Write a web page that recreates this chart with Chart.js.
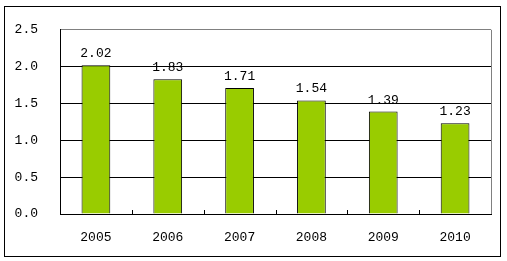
<!DOCTYPE html>
<html>
<head>
<meta charset="utf-8">
<style>
  html, body { margin: 0; padding: 0; background: #fff; }
  #wrap { width: 507px; height: 261px; position: relative; }
</style>
</head>
<body>
<div id="wrap"><canvas id="c" width="507" height="261"></canvas></div>
<script src="https://cdn.jsdelivr.net/npm/chart.js"></script>
<script>
const years = ['2005', '2006', '2007', '2008', '2009', '2010'];
const values = [2.02, 1.83, 1.71, 1.54, 1.39, 1.23];
const yTicks = [0, 0.5, 1.0, 1.5, 2.0, 2.5];

const FONT = '"Liberation Mono", monospace';

// outer frame, gray top/right edges, small ticks, value labels
const decor = {
  id: 'decor',
  afterDraw(chart) {
    const ctx = chart.ctx;
    const a = chart.chartArea;
    const xs = chart.scales.x;
    ctx.save();
    // outer frame
    ctx.strokeStyle = '#000';
    ctx.lineWidth = 1;
    ctx.strokeRect(4.5, 6.5, 496, 250);
    // right plot border
    ctx.strokeStyle = '#808080';
    ctx.beginPath();
    ctx.moveTo(Math.round(a.right) + 0.5, a.top);
    ctx.lineTo(Math.round(a.right) + 0.5, a.bottom);
    ctx.stroke();
    // small ticks between categories
    ctx.strokeStyle = '#000';
    const step = (a.right - a.left) / years.length;
    for (let i = 1; i < years.length; i++) {
      const x = Math.round(a.left + step * i) + 0.5;
      ctx.beginPath();
      ctx.moveTo(x, a.bottom);
      ctx.lineTo(x, a.bottom - 4);
      ctx.stroke();
    }
    // value labels
    ctx.fillStyle = '#000';
    ctx.font = '13px ' + FONT;
    ctx.textAlign = 'center';
    ctx.textBaseline = 'bottom';
    const meta = chart.getDatasetMeta(0);
    meta.data.forEach((bar, i) => {
      ctx.fillText(values[i].toFixed(2), bar.x, bar.y - 5);
    });
    ctx.restore();
  }
};

new Chart(document.getElementById('c'), {
  type: 'bar',
  data: {
    labels: years,
    datasets: [{
      data: values,
      backgroundColor: '#99CC00',
      borderColor: '#000',
      borderWidth: 1,
      barPercentage: 0.4,
      categoryPercentage: 1
    }]
  },
  options: {
    responsive: false,
    animation: false,
    layout: { padding: { left: 0, top: 27, right: 16, bottom: 0 } },
    plugins: { legend: { display: false }, tooltip: { enabled: false } },
    scales: {
      x: {
        grid: { display: false, drawTicks: false },
        border: { color: '#000', width: 1 },
        ticks: { color: '#000', font: { family: FONT, size: 13 }, padding: 16, maxRotation: 0 },
        afterFit(s) { s.height = 47; }
      },
      y: {
        min: 0,
        max: 2.5,
        afterBuildTicks(s) { s.ticks = yTicks.map(v => ({ value: v })); },
        grid: {
          drawTicks: false,
          color: c => (c.tick && c.tick.value === 2.5) ? '#808080' : '#000',
          lineWidth: 1
        },
        border: { color: '#000', width: 1 },
        ticks: {
          color: '#000',
          font: { family: FONT, size: 13 },
          padding: 22,
          callback: v => Number(v).toFixed(1)
        },
        afterFit(s) { s.width = 60; }
      }
    }
  },
  plugins: [decor]
});
</script>
</body>
</html>
